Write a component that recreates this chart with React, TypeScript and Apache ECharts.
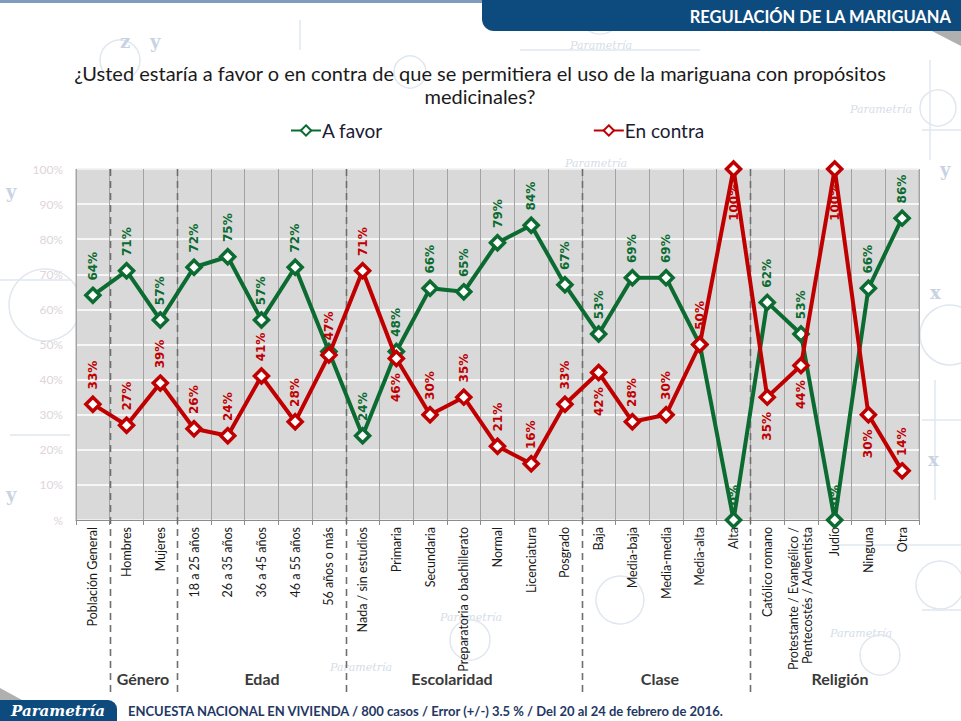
import React, { useEffect, useRef } from "react";
import * as echarts from "echarts";

const categories = [
  "Población General", "Hombres", "Mujeres",
  "18 a 25 años", "26 a 35 años", "36 a 45 años", "46 a 55 años", "56 años o más",
  "Nada / sin estudios", "Primaria", "Secundaria", "Preparatoria o bachillerato", "Normal", "Licenciatura", "Posgrado",
  "Baja", "Media-baja", "Media-media", "Media-alta", "Alta",
  "Católico romano", "Protestante / Evangélico /\nPentecostés / Adventista", "Judío", "Ninguna", "Otra",
];
const aFavor = [64, 71, 57, 72, 75, 57, 72, 48, 24, 48, 66, 65, 79, 84, 67, 53, 69, 69, 50, 0, 62, 53, 0, 66, 86];
const enContra = [33, 27, 39, 26, 24, 41, 28, 47, 71, 46, 30, 35, 21, 16, 33, 42, 28, 30, 50, 100, 35, 44, 100, 30, 14];
const hiddenFavorLabels = [7, 18];
const enContraLabelsBelow = [9, 15, 19, 20, 21, 22, 23];
const groupStarts = [1, 3, 8, 15, 20];
const groupNames = ["Género", "Edad", "Escolaridad", "Clase", "Religión"];
const groupLabelX = [143, 262, 452, 660, 840];

const GREEN = "#0b6b30";
const RED = "#c00000";

const labelBase = {
  show: true,
  rotate: 90,
  fontFamily: "DejaVu Sans",
  fontWeight: "bold",
  fontSize: 12,
  distance: 6,
  formatter: (p: any) => p.value + "%",
};
const aboveLabel = { ...labelBase, position: "top", align: "left", verticalAlign: "middle" };
const belowLabel = { ...labelBase, position: "bottom", align: "right", verticalAlign: "middle" };

const wmColor = "#e1e7ef";

function watermark(): any[] {
  const items: any[] = [];
  const texts: [number, number][] = [
    [570, 40], [565, 158], [850, 104], [440, 612], [830, 628], [330, 662],
  ];
  texts.forEach(([x, y]) =>
    items.push({
      type: "text", z: -5, silent: true,
      style: { text: "Parametría", x, y, fill: "#d5dde8", font: "italic 11px 'DejaVu Serif'" },
    })
  );
  const circles: [number, number, number][] = [
    [45, 305, 36], [120, 60, 20], [410, 72, 16], [600, 12, 22], [938, 108, 18], [950, 335, 30], [940, 585, 24],
    [470, 640, 20], [620, 600, 24], [880, 655, 20],
  ];
  circles.forEach(([cx, cy, r]) =>
    items.push({
      type: "circle", z: -5, silent: true,
      shape: { cx, cy, r },
      style: { fill: "transparent", stroke: wmColor, lineWidth: 1.5 },
    })
  );
  const lines: [number, number, number, number][] = [
    [0, 280, 70, 280], [80, 220, 80, 420], [10, 435, 70, 435], [922, 130, 961, 130], [930, 60, 930, 160],
    [922, 420, 961, 420], [935, 380, 935, 500], [922, 610, 961, 610], [300, 20, 300, 50], [520, 50, 700, 50],
    [830, 545, 961, 545],
  ];
  lines.forEach(([x1, y1, x2, y2]) =>
    items.push({
      type: "line", z: -5, silent: true,
      shape: { x1, y1, x2, y2 },
      style: { stroke: wmColor, lineWidth: 1.5 },
    })
  );
  const letters: [string, number, number][] = [
    ["y", 6, 182], ["y", 6, 485], ["x", 930, 283], ["y", 940, 160], ["x", 928, 450], ["z", 120, 32], ["y", 150, 32],
  ];
  letters.forEach(([t, x, y]) =>
    items.push({
      type: "text", z: -5, silent: true,
      style: { text: t, x, y, fill: "#c7d3e2", font: "bold 18px 'DejaVu Serif'" },
    })
  );
  return items;
}

export default function App() {
  const ref = useRef<HTMLDivElement>(null);

  useEffect(() => {
    if (!ref.current) return;
    const chart = echarts.init(ref.current, null, { renderer: "svg" });

    const option: any = {
      animation: false,
      backgroundColor: "#ffffff",
      textStyle: { fontFamily: "Lato" },
      grid: {
        left: 76, right: 42, top: 169, bottom: 201,
        show: true, backgroundColor: "#d9d9d9", borderColor: "#a6a6a6", borderWidth: 1,
      },
      legend: {
        left: 285, top: 116, itemGap: 210, itemWidth: 30, itemHeight: 13,
        textStyle: { fontFamily: "Lato", fontSize: 19, color: "#1b1b33", padding: [0, 0, 0, -4] },
        data: ["A favor", "En contra"],
      },
      xAxis: {
        type: "category",
        data: categories,
        boundaryGap: true,
        axisLine: { show: true, lineStyle: { color: "#8c8c8c", width: 1 } },
        axisTick: { show: true, length: 5, interval: 0, lineStyle: { color: "#8c8c8c" } },
        splitLine: { show: true, interval: 0, lineStyle: { color: "#a3a3a3", width: 1 } },
        axisLabel: {
          interval: 0, rotate: 90, margin: 7,
          fontFamily: "Lato", fontSize: 12.5, color: "#1a1a1a", lineHeight: 14,
        },
      },
      yAxis: {
        type: "value", min: 0, max: 100, interval: 10,
        axisLine: { show: false },
        axisTick: { show: false },
        splitLine: { show: true, lineStyle: { color: "#ffffff", width: 1.5 } },
        axisLabel: {
          margin: 13, fontFamily: "Lato", fontSize: 12, color: "#ddd5da",
          formatter: (v: number) => (v === 0 ? "%" : v + "%"),
        },
      },
      series: [
        {
          name: "A favor",
          type: "line",
          data: aFavor.map((v, i) => ({
            value: v,
            label: hiddenFavorLabels.includes(i) ? { show: false } : undefined,
          })),
          symbol: "diamond",
          symbolSize: 14,
          lineStyle: { color: GREEN, width: 4 },
          itemStyle: { color: "#ffffff", borderColor: GREEN, borderWidth: 3.5 },
          label: { ...aboveLabel, color: GREEN },
          z: 3,
        },
        {
          name: "En contra",
          type: "line",
          data: enContra.map((v, i) => ({
            value: v,
            label: enContraLabelsBelow.includes(i) ? { ...belowLabel, color: RED } : undefined,
          })),
          symbol: "diamond",
          symbolSize: 14,
          lineStyle: { color: RED, width: 4 },
          itemStyle: { color: "#ffffff", borderColor: RED, borderWidth: 3.5 },
          label: { ...aboveLabel, color: RED },
          z: 4,
        },
      ],
    };
    chart.setOption(option);

    const graphics: any[] = [...watermark()];

    // header bar
    graphics.push({
      type: "rect", z: 10, silent: true,
      shape: { x: 0, y: 0, width: 961, height: 3 },
      style: { fill: "#7f9cbd" },
    });
    graphics.push({
      type: "polygon", z: 9, silent: true,
      shape: { points: [[930, 30], [961, 30], [961, 46]] },
      style: { fill: "#b0b0b0" },
    });
    graphics.push({
      type: "rect", z: 10, silent: true,
      shape: { x: 482, y: -12, width: 500, height: 43, r: [0, 0, 0, 12] },
      style: { fill: "#0d4a7e" },
    });
    graphics.push({
      type: "text", z: 11, silent: true,
      style: {
        text: "REGULACIÓN DE LA MARIGUANA", x: 951, y: 17,
        textAlign: "right", textVerticalAlign: "middle",
        fill: "#ffffff", font: "bold 16.5px Lato",
      },
    });
    // question
    graphics.push({
      type: "text", z: 10, silent: true,
      style: {
        text: "¿Usted estaría a favor o en contra de que se permitiera el uso de la mariguana con propósitos\nmedicinales?",
        x: 480, y: 61, textAlign: "center", lineHeight: 23,
        fill: "#1a1a1a", font: "20px Lato",
      },
    });

    // dashed group separators
    groupStarts.forEach((idx) => {
      const a = chart.convertToPixel({ xAxisIndex: 0 }, idx - 1) as number;
      const b = chart.convertToPixel({ xAxisIndex: 0 }, idx) as number;
      const x = Math.round((a + b) / 2) + 0.5;
      graphics.push({
        type: "line", z: 1, silent: true,
        shape: { x1: x, y1: 169, x2: x, y2: 693 },
        style: { stroke: "#6e6e6e", lineWidth: 1.6, lineDash: [7, 5] },
      });
    });
    // group names
    groupNames.forEach((name, i) => {
      graphics.push({
        type: "text", z: 10, silent: true,
        style: {
          text: name, x: groupLabelX[i], y: 678, textAlign: "center", textVerticalAlign: "middle",
          fill: "#3a3a3a", font: "bold 16px Lato",
        },
      });
    });

    // footer
    graphics.push({
      type: "polygon", z: 9, silent: true,
      shape: { points: [[0, 688], [22, 700], [0, 700]] },
      style: { fill: "#b0b0b0" },
    });
    graphics.push({
      type: "rect", z: 10, silent: true,
      shape: { x: 0, y: 700, width: 117, height: 25, r: [0, 9, 0, 0] },
      style: { fill: "#0d4a7e" },
    });
    graphics.push({
      type: "text", z: 11, silent: true,
      style: {
        text: "Parametría", x: 58, y: 711, textAlign: "center", textVerticalAlign: "middle",
        fill: "#ffffff", font: "italic bold 15px 'DejaVu Serif'",
      },
    });
    graphics.push({
      type: "text", z: 10, silent: true,
      style: {
        text: "ENCUESTA NACIONAL EN VIVIENDA / 800 casos / Error (+/-) 3.5 % / Del 20 al 24 de febrero de 2016.",
        x: 128, y: 711, textVerticalAlign: "middle",
        fill: "#1f3864", font: "bold 13px Lato",
      },
    });

    chart.setOption({ graphic: graphics });

    return () => chart.dispose();
  }, []);

  return <div ref={ref} style={{ width: 961, height: 721, position: "absolute", left: 0, top: 0 }} />;
}
